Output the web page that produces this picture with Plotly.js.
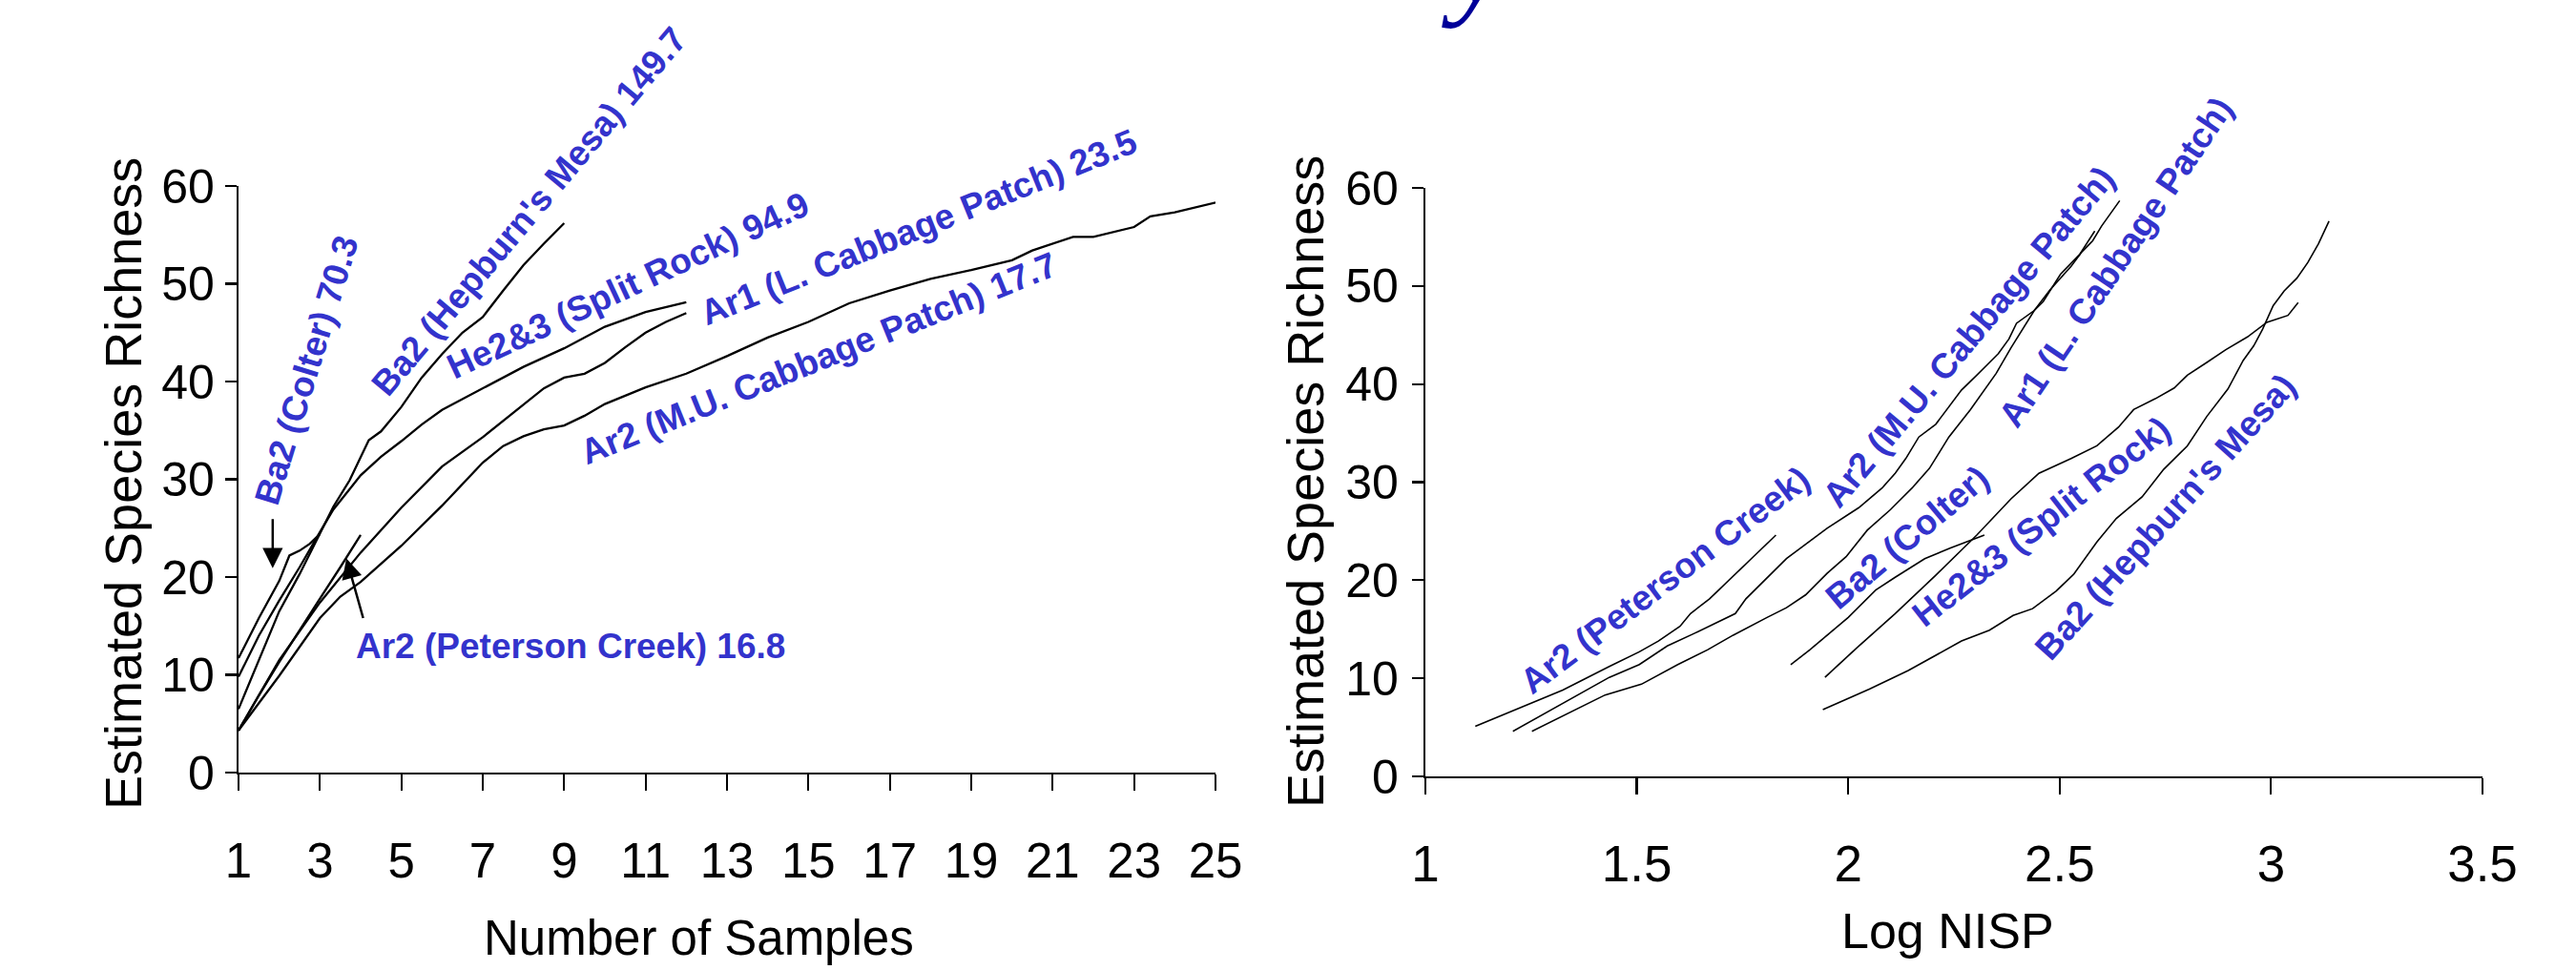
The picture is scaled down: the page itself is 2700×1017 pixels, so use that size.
<!DOCTYPE html>
<html>
<head>
<meta charset="utf-8">
<script src="https://cdn.plot.ly/plotly-3.0.1.min.js"></script>
<style>html,body{margin:0;padding:0;background:#fff;}#chart{width:2700px;height:1017px;}</style>
</head>
<body>
<div id="chart"></div>
<script>
// ---------- Left chart: Number of Samples ----------
const leftTicks = [1,3,5,7,9,11,13,15,17,19,21,23,25];

const colterX = [1,1.5,2,2.25,2.5,2.75,3];
const colterY = [11.7,15.8,19.6,22.2,22.7,23.4,24.4];

const splitX = [1,1.5,2,2.5,3,3.33,4,4.5,5,5.5,6,7,8,9,10,11,12];
const splitY = [9.8,14,17.6,21,24.6,26.9,30.4,32.3,33.9,35.6,37.1,39.3,41.5,43.4,45.6,47.1,48.1];

const hepX = [1,1.5,2,2.5,3,3.33,3.73,4.2,4.5,5,5.5,6,6.5,7,7.5,8,8.5,9];
const hepY = [6.5,11.5,16.5,20.3,24.5,27.2,29.9,34,34.9,37.4,40.4,42.8,45,46.6,49.3,51.9,54.1,56.2];

const peteX = [1,1.5,2,2.5,3,3.5,4];
const peteY = [4.3,7.9,11.3,14.6,17.8,21,24.3];

const lcabX = [1,2,3,4,5,6,7,8,8.5,9,9.5,10,10.5,11,11.5,12];
const lcabY = [4.3,11.5,17.4,22.5,27.1,31.3,34.3,37.6,39.3,40.4,40.8,41.9,43.5,45,46.1,47];

const mucabX = [1,2,3,3.5,4,5,6,7,7.5,8,8.5,9,9.5,10,11,12,13,14,15,16,17,18,19,20,20.5,21.5,22,23,23.4,24,25];
const mucabY = [4.3,9.9,15.8,18,19.5,23.2,27.3,31.7,33.4,34.4,35.1,35.5,36.5,37.7,39.4,40.8,42.6,44.5,46.1,48,49.3,50.5,51.4,52.4,53.4,54.8,54.8,55.8,56.9,57.3,58.3];

// ---------- Right chart: Log NISP ----------
const rightTicks = [1,1.5,2,2.5,3,3.5];
const rightTickText = ['1','1.5','2','2.5','3','3.5'];
const yTicks = [0,10,20,30,40,50,60];

const rPeteX = [1.118,1.325,1.435,1.506,1.551,1.602,1.627,1.672,1.829];
const rPeteY = [5.1,8.8,11.2,12.7,13.8,15.3,16.6,18.1,24.6];

const rMucabX = [1.207,1.335,1.435,1.506,1.572,1.637,1.698,1.733,1.758,1.798,1.854,1.95,2.025,2.08,2.111,2.136,2.167,2.207,2.233,2.268,2.304,2.355,2.38,2.398,2.44,2.477,2.527,2.553,2.578,2.599,2.642];
const rMucabY = [4.6,7.7,10.1,11.4,13.3,14.6,15.9,16.6,18.1,19.8,22.2,25.3,27.4,29.4,30.9,32.4,34.6,35.9,37.4,39.4,40.9,43.1,44.6,46.2,47.5,49.6,52.0,53.5,54.6,56.1,58.7];

const rLcabX = [1.252,1.335,1.425,1.511,1.597,1.667,1.728,1.808,1.854,1.899,1.95,1.995,2.045,2.1,2.151,2.192,2.238,2.289,2.35,2.385,2.44,2.461,2.502,2.547,2.583];
const rLcabY = [4.6,6.4,8.3,9.4,11.4,12.9,14.4,16.2,17.2,18.5,20.7,22.4,25.1,27.2,29.4,31.4,34.6,37.4,41.1,43.7,47.5,48.4,51.2,53.2,55.6];

const rColterX = [1.864,1.909,2.0,2.065,2.111,2.181,2.242,2.322];
const rColterY = [11.4,12.9,16.2,19.0,20.3,22.2,23.3,24.6];

const rSplitX = [1.945,2.02,2.111,2.207,2.304,2.385,2.451,2.527,2.588,2.639,2.675,2.726,2.771,2.802,2.848,2.893,2.944,2.99,3.04,3.064];
const rSplitY = [10.1,13.1,16.6,20.5,24.6,28.3,30.9,32.4,33.7,35.6,37.4,38.5,39.6,40.9,42.2,43.5,44.8,46.3,47.0,48.3];

const rHepX = [1.94,2.05,2.142,2.268,2.334,2.39,2.436,2.492,2.533,2.588,2.634,2.695,2.746,2.802,2.848,2.898,2.934,2.959,2.98,3.005,3.031,3.061,3.087,3.112,3.137];
const rHepY = [6.8,8.9,10.8,13.8,14.9,16.4,17.1,18.9,20.6,23.9,26.3,28.5,31.3,33.7,36.7,39.5,42.4,43.9,45.6,48.0,49.5,50.8,52.4,54.3,56.6];

// ---------- Labels ----------
const leftLabels = ['Ba2 (Colter) 70.3', "Ba2 (Hepburn's Mesa) 149.7", 'He2&3 (Split Rock) 94.9',
  'Ar1 (L. Cabbage Patch) 23.5', 'Ar2 (M.U. Cabbage Patch) 17.7', 'Ar2 (Peterson Creek) 16.8'];
const rightLabels = ['Ar2 (Peterson Creek)', 'Ar2 (M.U. Cabbage Patch)', 'Ar1 (L. Cabbage Patch)',
  'Ba2 (Colter)', 'He2&3 (Split Rock)', "Ba2 (Hepburn's Mesa)"];

// ---------- Layout helpers (pixel -> paper) ----------
const W = 2700, H = 1017;
const px = v => v / W;
const py = v => 1 - v / H;
const FONT = '"Liberation Sans", Arial, Helvetica, sans-serif';
const BLUE = '#3333CC';

function line(x, y, xa, ya, w) {
  return {x: x, y: y, xaxis: xa, yaxis: ya, type: 'scatter', mode: 'lines',
          line: {color: '#000', width: w}, hoverinfo: 'skip', showlegend: false};
}

const data = [
  line(colterX, colterY, 'x', 'y', 2.3),
  line(splitX, splitY, 'x', 'y', 2.3),
  line(hepX, hepY, 'x', 'y', 2.3),
  line(peteX, peteY, 'x', 'y', 2.3),
  line(lcabX, lcabY, 'x', 'y', 2.3),
  line(mucabX, mucabY, 'x', 'y', 2.3),
  line(rPeteX, rPeteY, 'x2', 'y2', 1.6),
  line(rMucabX, rMucabY, 'x2', 'y2', 1.6),
  line(rLcabX, rLcabY, 'x2', 'y2', 1.6),
  line(rColterX, rColterY, 'x2', 'y2', 1.6),
  line(rSplitX, rSplitY, 'x2', 'y2', 1.6),
  line(rHepX, rHepY, 'x2', 'y2', 1.6)
];

// label placements (pixel centre, angle)
const leftPos = [[321,388,-73],[555,222,-50],[658,300,-25],[962,238,-22],[859,376,-22],[598,677,0]];
const rightPos = [[1745,608,-37],[2063,353,-50],[2217,275,-56],[1999,563,-40],[2139,547,-38],[2269,542,-48]];

const annotations = [];
function lab(text, p) {
  annotations.push({text: text, xref: 'paper', yref: 'paper', x: px(p[0]), y: py(p[1]),
    xanchor: 'center', yanchor: 'middle', textangle: p[2], showarrow: false,
    font: {family: FONT, size: 37, color: BLUE, weight: 'bold'}});
}
leftLabels.forEach((t, i) => lab(t, leftPos[i]));
rightLabels.forEach((t, i) => lab(t, rightPos[i]));

// arrows
annotations.push({text: '', xref: 'x', yref: 'y', x: 1.84, y: 20.9, ax: 0, ay: -53,
  showarrow: true, arrowhead: 2, arrowsize: 1.7, arrowwidth: 2.5, arrowcolor: '#000', standoff: 0});
annotations.push({text: '', xref: 'x', yref: 'y', x: 3.65, y: 21.9, ax: 18, ay: 64,
  showarrow: true, arrowhead: 2, arrowsize: 1.7, arrowwidth: 2.5, arrowcolor: '#000', standoff: 0});

// axis titles
const axTitle = (text, x, y, ang, size) => annotations.push({text: text, xref: 'paper', yref: 'paper',
  x: px(x), y: py(y), xanchor: 'center', yanchor: 'middle', textangle: ang, showarrow: false,
  font: {family: FONT, size: size, color: '#000'}});
axTitle('Estimated Species Richness', 129, 507, -90, 54);
axTitle('Estimated Species Richness', 1368, 505, -90, 54);
axTitle('Number of Samples', 732, 983, 0, 51);
axTitle('Log NISP', 2041, 976, 0, 52);

// fragment of the slide title above
annotations.push({text: 'y', xref: 'paper', yref: 'paper', x: px(1545), y: py(32),
  xanchor: 'center', yanchor: 'bottom', showarrow: false,
  font: {family: '"Liberation Serif", "Times New Roman", serif', size: 130, color: '#000099', style: 'italic'}});

const axisCommon = {showgrid: false, zeroline: false, showline: true, linecolor: '#000', linewidth: 2.2,
  ticks: 'outside', tickcolor: '#000', tickwidth: 2.2, fixedrange: true};

const layout = {
  width: W, height: H,
  margin: {l: 0, r: 0, t: 0, b: 0},
  paper_bgcolor: '#fff', plot_bgcolor: '#fff',
  showlegend: false,
  font: {family: FONT, color: '#000'},
  xaxis: Object.assign({}, axisCommon, {domain: [px(250), px(1274)], range: [1, 25], anchor: 'y',
    tickmode: 'array', tickvals: leftTicks, ticklen: 17, ticklabelstandoff: 30,
    tickfont: {family: FONT, size: 51, color: '#000'}}),
  yaxis: Object.assign({}, axisCommon, {domain: [py(810), py(195)], range: [0, 60], anchor: 'x',
    tickmode: 'array', tickvals: yTicks, ticklen: 12, ticklabelstandoff: 1,
    tickfont: {family: FONT, size: 50, color: '#000'}}),
  xaxis2: Object.assign({}, axisCommon, {domain: [px(1494), px(2602)], range: [1, 3.5], anchor: 'y2',
    tickmode: 'array', tickvals: rightTicks, ticktext: rightTickText, ticklen: 17, ticklabelstandoff: 27,
    tickfont: {family: FONT, size: 53, color: '#000'}}),
  yaxis2: Object.assign({}, axisCommon, {domain: [py(814), py(197)], range: [0, 60], anchor: 'x2',
    tickmode: 'array', tickvals: yTicks, ticklen: 12, ticklabelstandoff: 4,
    tickfont: {family: FONT, size: 50, color: '#000'}}),
  annotations: annotations
};

Plotly.newPlot('chart', data, layout, {displayModeBar: false, staticPlot: true});
</script>
</body>
</html>
